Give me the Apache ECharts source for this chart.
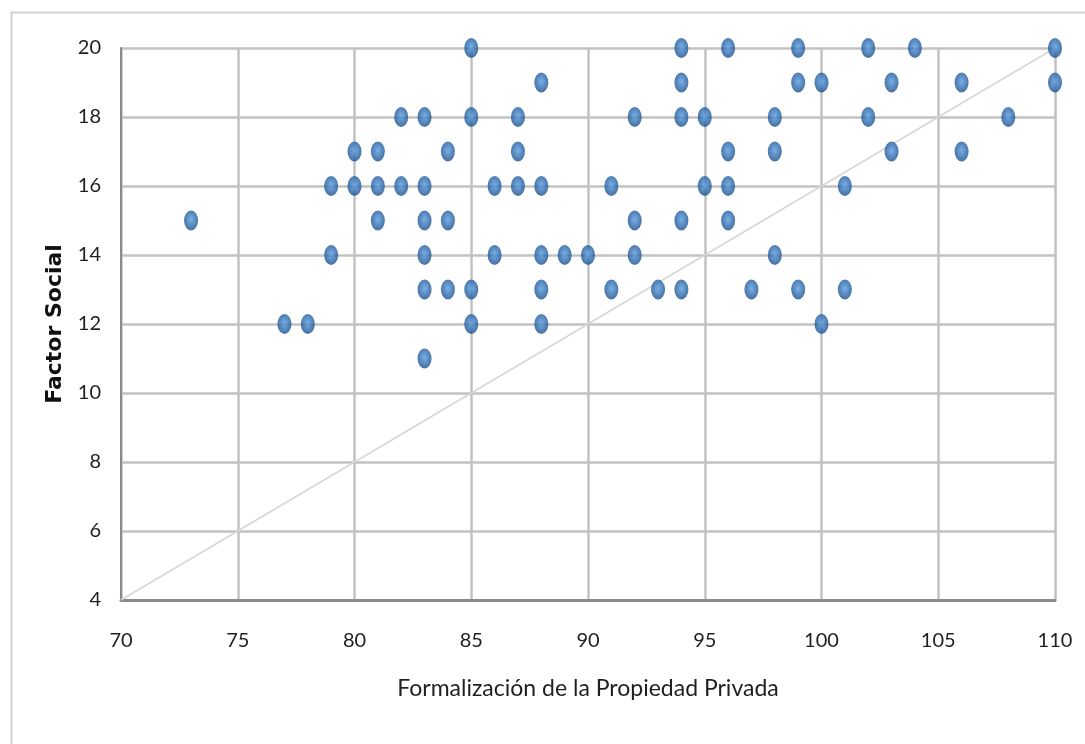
<!DOCTYPE html>
<html>
<head>
<meta charset="utf-8">
<script src="https://cdn.jsdelivr.net/npm/echarts@6/dist/echarts.min.js"></script>
<style>html,body{margin:0;padding:0;background:#fff;}#c{width:1085px;height:744px;}</style>
</head>
<body>
<div id="c"></div>
<script>
// Formalización de la Propiedad Privada (x) vs Factor Social (y)
const xValues = [
  85, 94, 96, 99, 102, 104, 110,
  88, 94, 99, 100, 103, 106, 110,
  82, 83, 85, 87, 92, 94, 95, 98, 102, 108,
  80, 81, 84, 87, 96, 98, 103, 106,
  79, 80, 81, 82, 83, 86, 87, 88, 91, 95, 96, 101,
  73, 81, 83, 84, 92, 94, 96,
  79, 83, 86, 88, 89, 90, 92, 98,
  83, 84, 85, 88, 91, 93, 94, 97, 99, 101,
  77, 78, 85, 88, 100,
  83
];
const yValues = [
  20, 20, 20, 20, 20, 20, 20,
  19, 19, 19, 19, 19, 19, 19,
  18, 18, 18, 18, 18, 18, 18, 18, 18, 18,
  17, 17, 17, 17, 17, 17, 17, 17,
  16, 16, 16, 16, 16, 16, 16, 16, 16, 16, 16, 16,
  15, 15, 15, 15, 15, 15, 15,
  14, 14, 14, 14, 14, 14, 14, 14,
  13, 13, 13, 13, 13, 13, 13, 13, 13, 13,
  12, 12, 12, 12, 12,
  11
];
const refLineX = [70, 110];
const refLineY = [4, 20];
const xTitle = 'Formalización de la Propiedad Privada';
const yTitle = 'Factor Social';

const points = xValues.map((x, i) => [x, yValues[i]]);
const refLine = refLineX.map((x, i) => [x, refLineY[i]]);

const chart = echarts.init(document.getElementById('c'), null, {renderer: 'canvas'});
chart.setOption({
  backgroundColor: '#ffffff',
  animation: false,
  graphic: [{
    type: 'rect', left: 9, top: 10, silent: true,
    shape: {width: 1120, height: 800},
    style: {fill: 'none', stroke: '#d2d2d2', lineWidth: 2}
  }],
  grid: {left: 121, right: 30, top: 48, bottom: 144, containLabel: false},
  xAxis: {
    type: 'value', min: 70, max: 110, interval: 5,
    name: xTitle, nameLocation: 'middle', nameGap: 77,
    nameTextStyle: {fontFamily: 'Lato', fontSize: 23, color: '#1f1f1f'},
    axisLine: {show: true, onZero: false, lineStyle: {color: '#8a8a8a', width: 3}},
    axisTick: {show: false},
    axisLabel: {margin: 31, fontFamily: 'Lato', fontSize: 20, color: '#1f1f1f'},
    splitLine: {show: true, lineStyle: {color: '#c2c2c2', width: 2.5}}
  },
  yAxis: {
    type: 'value', min: 4, max: 20, interval: 2,
    name: yTitle, nameLocation: 'middle', nameGap: 55, nameRotate: 90,
    nameTextStyle: {fontFamily: 'DejaVu Sans', fontWeight: 'bold', fontSize: 22, color: '#111111'},
    axisLine: {show: true, onZero: false, lineStyle: {color: '#8a8a8a', width: 2}},
    axisTick: {show: false},
    axisLabel: {margin: 20, fontFamily: 'Lato', fontSize: 20, color: '#1f1f1f'},
    splitLine: {show: true, lineStyle: {color: '#c2c2c2', width: 2.5}}
  },
  series: [
    {
      type: 'line', data: refLine, symbol: 'none', silent: true, z: 1,
      lineStyle: {color: '#d6d6d6', width: 1.5}
    },
    {
      type: 'scatter', data: points, symbol: 'circle', symbolSize: [14, 20], z: 3,
      itemStyle: {
        color: {
          type: 'radial', x: 0.5, y: 0.45, r: 0.6,
          colorStops: [
            {offset: 0, color: '#5a9cdc'},
            {offset: 0.5, color: '#3170b5'},
            {offset: 1, color: '#15457c'}
          ]
        }
      }
    }
  ]
});
</script>
</body>
</html>
